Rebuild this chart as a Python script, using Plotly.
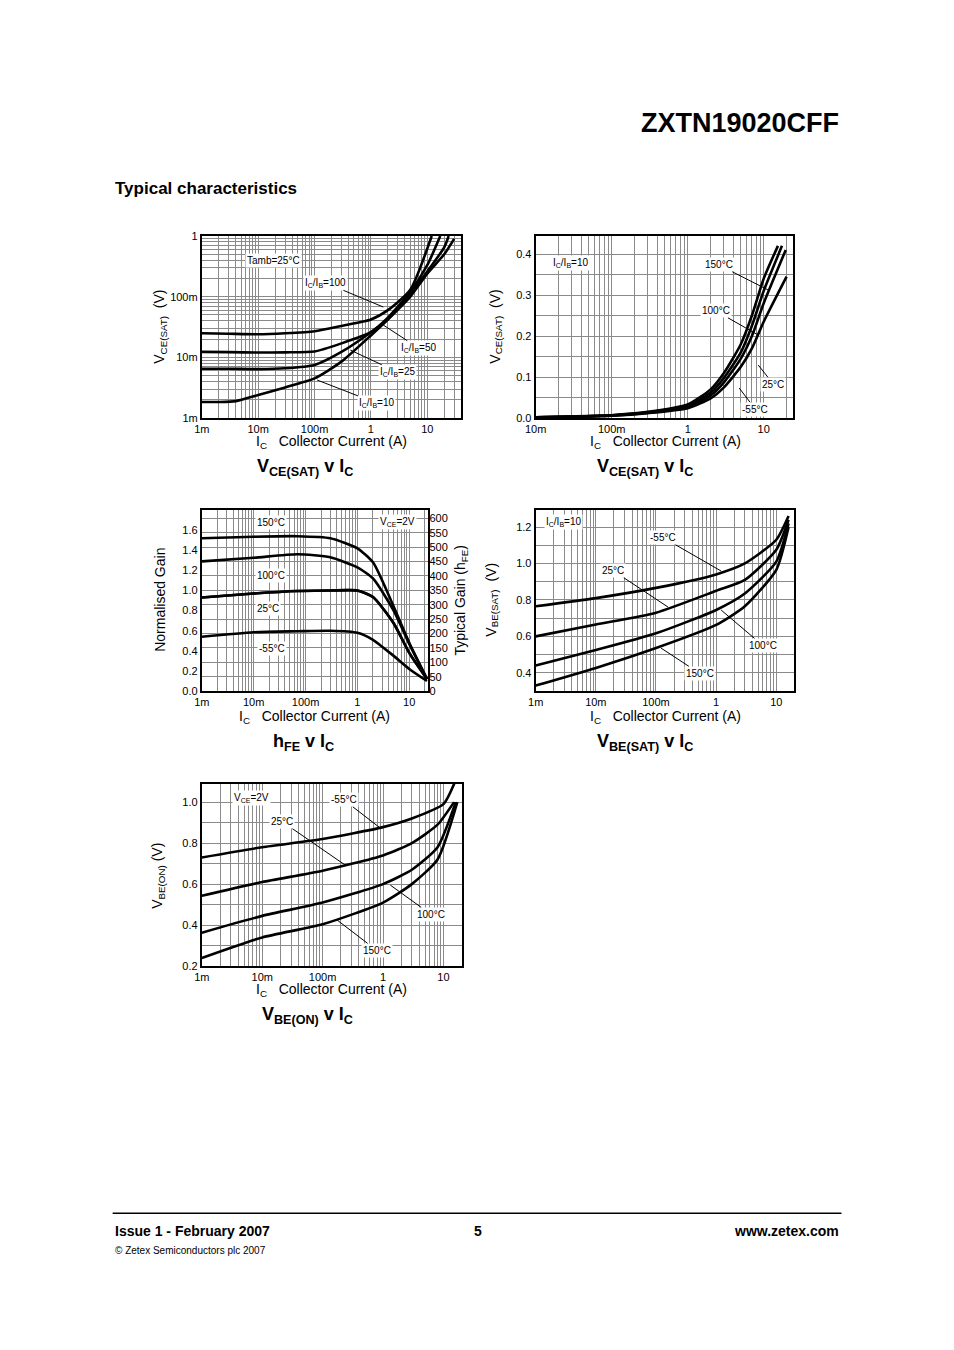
import plotly.graph_objects as go

W, H = 954, 1350
FONT = "Liberation Sans, Arial, sans-serif"

# ---------------- data ----------------
# Chart 1: VCE(sat) vs IC, Tamb=25C (log-log)
c1_ib100_x = [0.001, 0.003, 0.01, 0.03, 0.1, 0.3, 1, 2, 5, 12]
c1_ib100_y = [0.025, 0.0245, 0.024, 0.025, 0.027, 0.033, 0.042, 0.06, 0.13, 1.0]
c1_ib50_x = [0.001, 0.003, 0.01, 0.03, 0.1, 0.3, 1, 2, 5, 10, 17]
c1_ib50_y = [0.0123, 0.0122, 0.012, 0.0121, 0.0125, 0.017, 0.026, 0.045, 0.12, 0.33, 1.0]
c1_ib25_x = [0.001, 0.003, 0.01, 0.03, 0.1, 0.3, 1, 2, 5, 10, 20, 24]
c1_ib25_y = [0.0065, 0.0065, 0.0064, 0.0066, 0.0075, 0.0123, 0.026, 0.043, 0.11, 0.26, 0.65, 1.0]
c1_ib10_x = [0.001, 0.002, 0.004, 0.01, 0.03, 0.1, 0.3, 1, 2, 5, 10, 20, 30]
c1_ib10_y = [0.00184, 0.00184, 0.0019, 0.0024, 0.0032, 0.0045, 0.0085, 0.023, 0.042, 0.1, 0.24, 0.5, 0.9]

# Chart 2: VCE(sat) vs IC at IC/IB=10, temperatures
c2_x_150 = [0.01, 0.1, 0.3, 1, 2, 3, 5, 7, 10, 15.4]
c2_y_150 = [0.002, 0.007, 0.015, 0.033, 0.07, 0.11, 0.18, 0.25, 0.34, 0.42]
c2_x_100 = [0.01, 0.1, 0.3, 1, 2, 3, 5, 7, 10, 17.4]
c2_y_100 = [0.002, 0.007, 0.014, 0.03, 0.062, 0.098, 0.16, 0.225, 0.31, 0.42]
c2_x_25 = [0.01, 0.1, 0.3, 1, 2, 3, 5, 7, 10, 19.5]
c2_y_25 = [0.002, 0.006, 0.013, 0.027, 0.055, 0.087, 0.145, 0.2, 0.28, 0.41]
c2_x_m55 = [0.01, 0.1, 0.3, 1, 2, 3, 5, 7, 10, 20]
c2_y_m55 = [0.002, 0.006, 0.012, 0.024, 0.048, 0.075, 0.125, 0.17, 0.235, 0.345]

# Chart 3: normalised hFE vs IC, VCE=2V
c3_ic = [0.001, 0.01, 0.07, 0.3, 1, 2, 5, 10, 22]
c3_150 = [1.52, 1.535, 1.54, 1.52, 1.42, 1.28, 0.84, 0.48, 0.12]
c3_100 = [1.29, 1.325, 1.36, 1.33, 1.23, 1.12, 0.8, 0.47, 0.12]
c3_25 = [0.93, 0.97, 0.995, 1.0, 1.0, 0.935, 0.675, 0.38, 0.12]
c3_m55 = [0.54, 0.585, 0.595, 0.6, 0.58, 0.51, 0.35, 0.22, 0.1]
hfe_per_unit = 349.2
hfe_ticks = [0, 50, 100, 150, 200, 250, 300, 350, 400, 450, 500, 550, 600]

# Chart 4: VBE(sat) vs IC at IC/IB=10
c4_ic = [0.001, 0.01, 0.1, 1, 3, 10, 16]
c4_m55 = [0.765, 0.81, 0.866, 0.94, 1.0, 1.13, 1.26]
c4_25 = [0.6, 0.665, 0.73, 0.85, 0.91, 1.075, 1.24]
c4_100 = [0.44, 0.525, 0.617, 0.745, 0.835, 1.01, 1.22]
c4_150 = [0.33, 0.427, 0.536, 0.663, 0.765, 0.965, 1.2]

# Chart 5: VBE(on) vs IC at VCE=2V
c5_x_m55 = [0.001, 0.01, 0.1, 1, 3, 10, 15.6]
c5_y_m55 = [0.73, 0.78, 0.82, 0.878, 0.92, 0.99, 1.1]
c5_x_25 = [0.001, 0.01, 0.1, 1, 3, 8, 15]
c5_y_25 = [0.543, 0.61, 0.665, 0.74, 0.8, 0.89, 1.0]
c5_x_100 = [0.001, 0.01, 0.1, 1, 3, 8, 16]
c5_y_100 = [0.363, 0.445, 0.51, 0.6, 0.67, 0.78, 1.0]
c5_x_150 = [0.001, 0.01, 0.1, 1, 3, 8, 17]
c5_y_150 = [0.24, 0.34, 0.404, 0.51, 0.6, 0.72, 1.0]

log_tickvals = [0.001, 0.01, 0.1, 1, 10]
log_ticktext = ["1m", "10m", "100m", "1", "10"]

# ---------------- layout helpers ----------------
# compensate observed page offset/scale of the rendered figure
def px(x): return ((x - 19.6) / 0.986) / W
def py(y): return 1 - ((y - 14.0) / 0.991) / H

fig = go.Figure()
LINE = dict(color="black", width=2.6, shape="spline", smoothing=0.6)
GRID = "#8a8a8a"

boxes = {
    1: (202, 460, 236, 418),
    2: (535, 792, 236, 418),
    3: (202, 428, 510, 691),
    4: (535, 793, 510, 691),
    5: (202, 461, 784, 966),
}

def xaxis_def(box, lo, hi):
    l, r, t, b = box
    return dict(type="log", domain=[px(l), px(r)], range=[lo, hi],
                tickvals=log_tickvals, ticktext=log_ticktext,
                showgrid=True, gridcolor=GRID, gridwidth=1,
                minor=dict(dtick="D1", showgrid=True, gridcolor=GRID, gridwidth=1),
                showline=True, linecolor="black", linewidth=2, mirror=True,
                ticks="", tickfont=dict(size=11, family=FONT, color="black"),
                zeroline=False)

def yaxis_def(box, **kw):
    l, r, t, b = box
    d = dict(domain=[py(b), py(t)], showgrid=True, gridcolor=GRID, gridwidth=1,
             showline=True, linecolor="black", linewidth=2, mirror=True,
             ticks="", tickfont=dict(size=11, family=FONT, color="black"), zeroline=False)
    d.update(kw)
    return d

lay = {}
lay["xaxis"] = xaxis_def(boxes[1], -3, 1.59)
lay["yaxis"] = yaxis_def(boxes[1], type="log", range=[-3, 0], tickvals=[0.001, 0.01, 0.1, 1],
                         ticktext=["1m", "10m", "100m", "1"],
                         minor=dict(dtick="D1", showgrid=True, gridcolor=GRID))
lay["xaxis2"] = xaxis_def(boxes[2], -2, 1.39)
lay["yaxis2"] = yaxis_def(boxes[2], range=[0, 0.444], tickvals=[0, 0.1, 0.2, 0.3, 0.4],
                          ticktext=["0.0", "0.1", "0.2", "0.3", "0.4"],
                          minor=dict(dtick=0.05, showgrid=True, gridcolor=GRID))
lay["xaxis3"] = xaxis_def(boxes[3], -3, 1.37)
lay["yaxis3"] = yaxis_def(boxes[3], range=[0, 1.8], tickvals=[0, 0.2, 0.4, 0.6, 0.8, 1.0, 1.2, 1.4, 1.6],
                          ticktext=["0.0", "0.2", "0.4", "0.6", "0.8", "1.0", "1.2", "1.4", "1.6"],
                          showgrid=False)
lay["xaxis4"] = xaxis_def(boxes[4], -3, 1.3)
lay["yaxis4"] = yaxis_def(boxes[4], range=[0.3, 1.293], tickvals=[0.4, 0.6, 0.8, 1.0, 1.2],
                          ticktext=["0.4", "0.6", "0.8", "1.0", "1.2"],
                          minor=dict(dtick=0.1, showgrid=True, gridcolor=GRID))
lay["xaxis5"] = xaxis_def(boxes[5], -3, 1.3)
lay["yaxis5"] = yaxis_def(boxes[5], range=[0.2, 1.088], tickvals=[0.2, 0.4, 0.6, 0.8, 1.0],
                          ticktext=["0.2", "0.4", "0.6", "0.8", "1.0"],
                          minor=dict(dtick=0.1, showgrid=True, gridcolor=GRID))
for i in range(1, 6):
    s = "" if i == 1 else str(i)
    lay["xaxis" + s]["anchor"] = "y" + s
    lay["yaxis" + s]["anchor"] = "x" + s
lay["yaxis6"] = yaxis_def(boxes[3], range=[0, 1.8 * hfe_per_unit], tickvals=hfe_ticks,
                          side="right", overlaying="y3", anchor="x3", showline=False)

def add(x, y, i, ya=None):
    s = "" if i == 1 else str(i)
    fig.add_trace(go.Scatter(x=x, y=y, mode="lines", line=LINE, xaxis="x" + s,
                             yaxis=ya or ("y" + s), showlegend=False, hoverinfo="skip"))

add(c1_ib100_x, c1_ib100_y, 1); add(c1_ib50_x, c1_ib50_y, 1)
add(c1_ib25_x, c1_ib25_y, 1); add(c1_ib10_x, c1_ib10_y, 1)
add(c2_x_150, c2_y_150, 2); add(c2_x_100, c2_y_100, 2)
add(c2_x_25, c2_y_25, 2); add(c2_x_m55, c2_y_m55, 2)
for yy in (c3_150, c3_100, c3_25, c3_m55): add(c3_ic, yy, 3)
# same 25C curve on the typical-gain axis (overlaps exactly)
add(c3_ic, [v * hfe_per_unit for v in c3_25], 3, ya="y6")
for yy in (c4_m55, c4_25, c4_100, c4_150): add(c4_ic, yy, 4)
add(c5_x_m55, c5_y_m55, 5); add(c5_x_25, c5_y_25, 5)
add(c5_x_100, c5_y_100, 5); add(c5_x_150, c5_y_150, 5)

ann = []
def text(x, y, t, size=11, bold=False, xanchor="center", angle=0):
    ann.append(dict(x=px(x), y=py(y), xref="paper", yref="paper",
                    text=("<b>%s</b>" % t) if bold else t,
                    showarrow=False, xanchor=xanchor, yanchor="middle", textangle=angle,
                    font=dict(size=size, family=FONT, color="black")))

def label(x, y, t, tip=None):
    a = dict(x=px(x), y=py(y), xref="paper", yref="paper", text=t, showarrow=False,
             font=dict(size=10, family=FONT, color="black"), bgcolor="white", borderpad=1)
    if tip:
        a.update(x=px(tip[0]), y=py(tip[1]), showarrow=True, arrowhead=0, arrowwidth=1,
                 arrowcolor="black", ax=(x - tip[0]) / 0.986, ay=(y - tip[1]) / 0.991, standoff=0)
    ann.append(a)

IC = "I<sub>C</sub>/I<sub>B</sub>"
label(245, 253, "Tamb=25°C")
label(326, 283, IC + "=100", (383, 307))
label(418, 348, IC + "=50", (383, 325))
label(397, 372, IC + "=25", (350, 350))
label(376, 403, IC + "=10", (317, 380))
label(570, 255, IC + "=10")
label(718, 265, "150°C", (767, 290))
label(715, 311, "100°C", (757, 335))
label(772, 384, "25°C", (757, 365))
label(754, 409, "-55°C", (738, 388))
label(255, 522, "150°C"); label(255, 575, "100°C"); label(255, 608, "25°C"); label(257, 648, "-55°C")
label(397, 522, "V<sub>CE</sub>=2V")
label(563, 522, IC + "=10")
label(663, 538, "-55°C", (720, 571))
label(613, 571, "25°C", (667, 607))
label(761, 645, "100°C", (720, 610))
label(698, 673, "150°C", (660, 648))
label(232, 798, "V<sub>CE</sub>=2V")
label(344, 800, "-55°C", (380, 828))
label(283, 822, "25°C", (345, 865))
label(430, 914, "100°C", (390, 885))
label(376, 950, "150°C", (337, 920))

XT = "I<sub>C</sub>   Collector Current (A)"
text(331, 442, XT, 14); text(664, 442, XT, 14)
text(314, 717, XT, 14); text(664, 717, XT, 14); text(331, 990, XT, 14)
text(160, 327, "V<sub>CE(SAT)</sub>  (V)", 14, angle=-90)
text(495, 327, "V<sub>CE(SAT)</sub>  (V)", 14, angle=-90)
text(160, 600, "Normalised Gain", 14, angle=-90)
text(461, 600, "Typical Gain (h<sub>FE</sub>)", 14, angle=-90)
text(491, 600, "V<sub>BE(SAT)</sub>  (V)", 14, angle=-90)
text(158, 876, "V<sub>BE(ON)</sub> (V)", 14, angle=-90)

text(305, 467, "V<sub>CE(SAT)</sub> v I<sub>C</sub>", 18, bold=True)
text(644, 467, "V<sub>CE(SAT)</sub> v I<sub>C</sub>", 18, bold=True)
text(303, 742, "h<sub>FE</sub> v I<sub>C</sub>", 18, bold=True)
text(644, 742, "V<sub>BE(SAT)</sub> v I<sub>C</sub>", 18, bold=True)
text(307, 1015, "V<sub>BE(ON)</sub> v I<sub>C</sub>", 18, bold=True)

text(840, 123, "ZXTN19020CFF", 27, bold=True, xanchor="right")
text(113, 188, "Typical characteristics", 17, bold=True, xanchor="left")
text(113, 1231, "Issue 1 - February 2007", 14, bold=True, xanchor="left")
text(477, 1231, "5", 14, bold=True)
text(840, 1231, "www.zetex.com", 14, bold=True, xanchor="right")
text(113, 1250, "© Zetex Semiconductors plc 2007", 10, xanchor="left")

fig.update_layout(**lay)
fig.update_layout(width=W, height=H, margin=dict(l=0, r=0, t=0, b=0),
                  paper_bgcolor="white", plot_bgcolor="white", annotations=ann,
                  font=dict(family=FONT, color="black"),
                  shapes=[dict(type="line", xref="paper", yref="paper", x0=px(113), x1=px(840),
                               y0=py(1213), y1=py(1213), line=dict(color="black", width=1.5))])
fig.write_html("out.html")
